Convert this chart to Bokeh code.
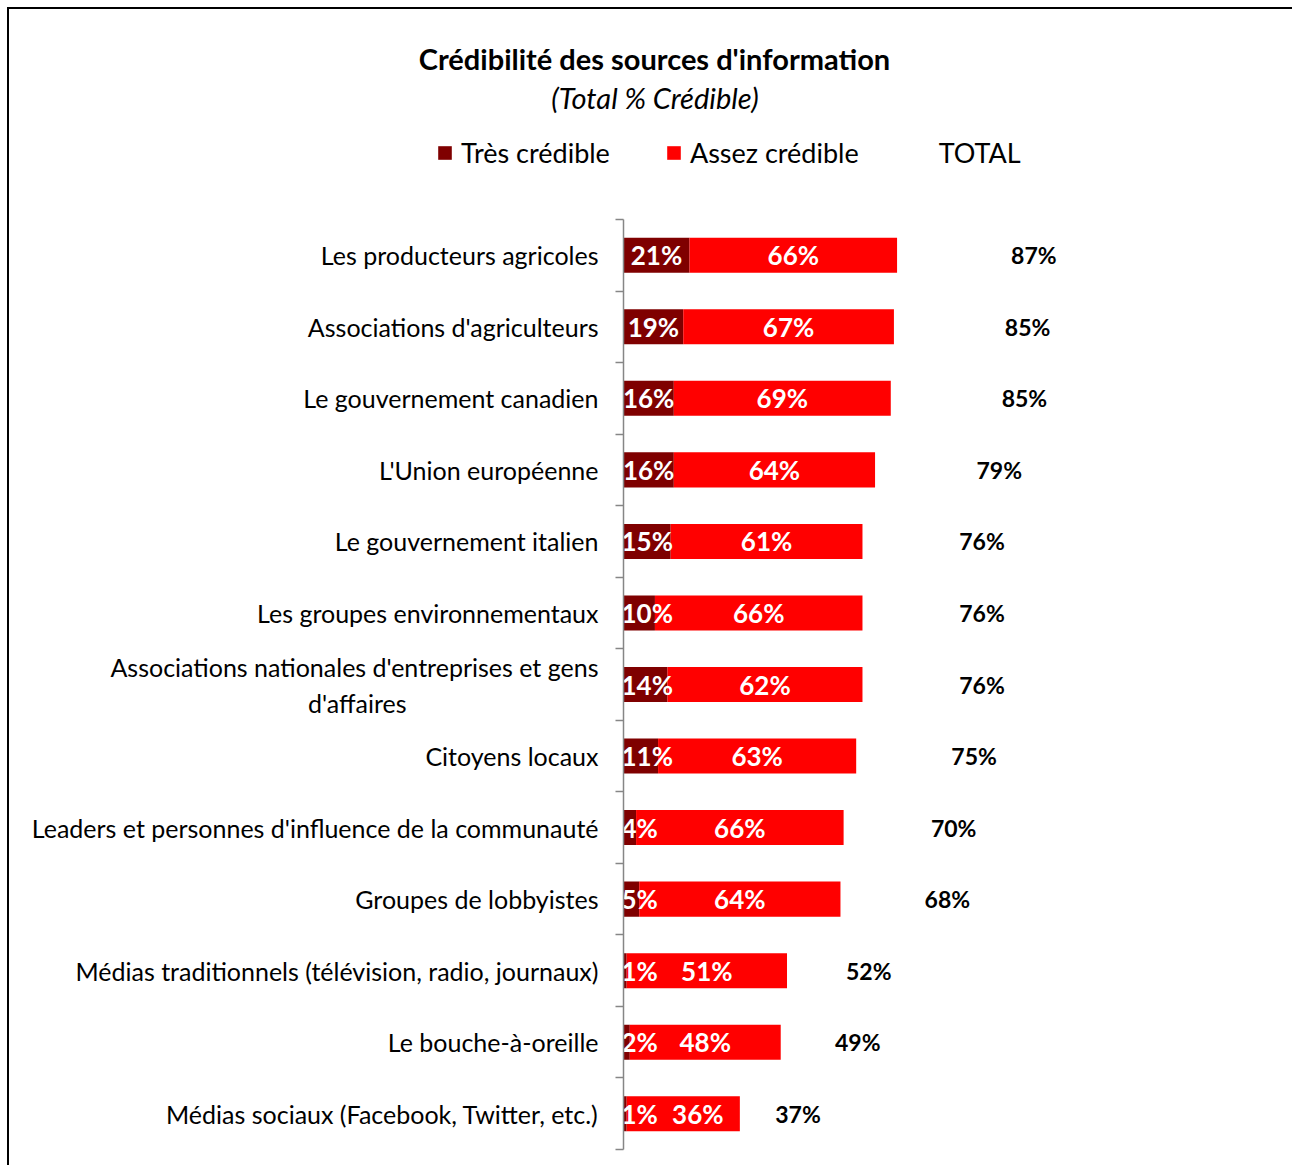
from bokeh.plotting import figure
from bokeh.models import ColumnDataSource, FixedTicker, Range1d
from bokeh.core.properties import value
from bokeh.embed import file_html
from bokeh.resources import INLINE

# ---------------- data ----------------
NBSP = "\u00a0"
categories = [
    "Les producteurs agricoles",
    "Associations d'agriculteurs",
    "Le gouvernement canadien",
    "L'Union européenne",
    "Le gouvernement italien",
    "Les groupes environnementaux",
    "Associations nationales d'entreprises et gens\nd'affaires" + NBSP * 30,
    "Citoyens locaux",
    "Leaders et personnes d'influence de la communauté",
    "Groupes de lobbyistes",
    "Médias traditionnels (télévision, radio, journaux)",
    "Le bouche-à-oreille",
    "Médias sociaux (Facebook, Twitter, etc.)",
]
tres_credible = [21, 19, 16, 16, 15, 10, 14, 11, 4, 5, 1, 2, 1]
assez_credible = [66, 67, 69, 64, 61, 66, 62, 63, 66, 64, 51, 48, 36]
total = [87, 85, 85, 79, 76, 76, 76, 75, 70, 68, 52, 49, 37]
series_names = ["Très crédible", "Assez crédible", "TOTAL"]
title_text = "Crédibilité des sources d'information"
subtitle_text = "(Total % Crédible)"

# ---------------- styles ----------------
FONT = "Lato"
DARK = "#7F0000"
RED = "#FF0000"
W = 1285
HT = 180            # header figure height
HM = 1158 - HT      # main figure height
ML, MR, MT, MB = 614, 105, 12, 6
X_MAX = 180
PX_PER_UNIT = (W - ML - MR) / X_MAX
BAR_LABEL_SIZE = 26

n = len(categories)
ypos = [n - 1 - i for i in range(n)]
tres_end = list(tres_credible)
assez_end = [a + b for a, b in zip(tres_credible, assez_credible)]
tot_end = [s + t for s, t in zip(assez_end, total)]

# ---------------- header figure (title + legend) ----------------
hdr = figure(width=W, height=HT, output_backend="svg", toolbar_location=None,
             x_range=Range1d(0, W), y_range=Range1d(HT, 0),
             x_axis_location=None, y_axis_location=None,
             min_border_left=0, min_border_right=0, min_border_top=0,
             min_border_bottom=0, title=None)
hdr.outline_line_color = None
hdr.xgrid.visible = False
hdr.ygrid.visible = False
hdr.text(x=[645], y=[49], text=[title_text], text_align="center",
         text_baseline="alphabetic", text_font=value(FONT), text_font_style="bold",
         text_font_size="29px", text_color="black")
hdr.text(x=[645.5], y=[87.5], text=[subtitle_text], text_align="center",
         text_baseline="alphabetic", text_font=value(FONT), text_font_style="italic",
         text_font_size="29px", text_color="black")
# legend proxies: zero-size bars that only carry the series styles
for name, col in zip(series_names, [DARK, RED, None]):
    if col is None:
        hdr.hbar(y=[0], left=[0], right=[0], height=0, fill_alpha=0, line_alpha=0,
                 legend_label=name)
    else:
        hdr.hbar(y=[0], left=[0], right=[0], height=0, fill_color=col, line_color=None,
                 legend_label=name)
lg = hdr.legend[0]
lg.orientation = "horizontal"
lg.location = (427, 20)
lg.spacing = 55
lg.glyph_width = 17
lg.glyph_height = 17
lg.label_standoff = 8
lg.padding = 0
lg.margin = 0
lg.border_line_color = None
lg.background_fill_alpha = 0
lg.label_text_font = FONT
lg.label_text_font_size = "27px"
lg.label_text_color = "black"
hdr.styles = {"margin-left": "7px", "margin-top": "7px",
              "border-left": "2px solid black", "border-top": "2px solid black"}

# ---------------- main figure ----------------
unit_px = (1150 - 220) / n
y_end = (n - 0.5) + 20 / unit_px
y_start = -0.5 - 10 / unit_px

p = figure(width=W, height=HM, output_backend="svg", toolbar_location=None,
           x_range=(0, X_MAX), y_range=(y_start, y_end),
           x_axis_location=None, min_border_left=ML, min_border_right=MR,
           min_border_top=MT, min_border_bottom=MB, title=None)
p.outline_line_color = None
p.xgrid.visible = False
p.ygrid.visible = False
p.styles = {"margin-left": "7px", "border-left": "2px solid black"}

src = ColumnDataSource(dict(y=ypos, t0=[0] * n, t1=tres_end, a1=assez_end, z1=tot_end))
h = 0.49
p.hbar(y="y", left="t0", right="t1", height=h, source=src, fill_color=DARK, line_color=None)
p.hbar(y="y", left="t1", right="a1", height=h, source=src, fill_color=RED, line_color=None)
p.hbar(y="y", left="a1", right="z1", height=h, source=src, fill_alpha=0, line_alpha=0)

# bar labels: centered in segment, clamped to plot's left edge, no overlap
def est_width(v):
    return BAR_LABEL_SIZE * (0.56 * len(str(v)) + 0.8)

lc = dict(x=[], y=[], text=[])
ll = dict(x=[], y=[], text=[])
dark_right_px = []
for v, yy in zip(tres_credible, ypos):
    w = est_width(v)
    if v * PX_PER_UNIT < w:
        ll["x"].append(0); ll["y"].append(yy); ll["text"].append(f"{v}%")
        dark_right_px.append(w)
    else:
        lc["x"].append(v / 2); lc["y"].append(yy); lc["text"].append(f"{v}%")
        dark_right_px.append(v * PX_PER_UNIT / 2 + w / 2)
for v, s, yy, dr in zip(assez_credible, tres_end, ypos, dark_right_px):
    w = est_width(v)
    cx = s + v / 2
    min_cx = (dr + 14 + w / 2) / PX_PER_UNIT
    lc["x"].append(max(cx, min_cx)); lc["y"].append(yy); lc["text"].append(f"{v}%")

common = dict(text_font=value(FONT), text_font_style="bold",
              text_font_size=f"{BAR_LABEL_SIZE}px", text_color="white",
              text_baseline="middle")
p.text(x="x", y="y", text="text", source=ColumnDataSource(lc), text_align="center", **common)
p.text(x="x", y="y", text="text", source=ColumnDataSource(ll), text_align="left",
       x_offset=-2, **common)

tl = dict(x=[s + t / 2 for s, t in zip(assez_end, total)], y=ypos,
          text=[f"{t}%" for t in total])
p.text(x="x", y="y", text="text", source=ColumnDataSource(tl), text_align="center",
       text_baseline="middle", text_font=value(FONT), text_font_style="bold",
       text_font_size="23px", text_color="black")

# y axis
ax = p.yaxis[0]
ax.ticker = FixedTicker(ticks=ypos, minor_ticks=[k - 0.5 for k in range(n + 1)])
ax.major_label_overrides = {yy: c for yy, c in zip(ypos, categories)}
ax.bounds = (-0.5, n - 0.5)
ax.axis_line_color = "#868686"
ax.axis_line_width = 1.5
ax.major_tick_out = 0
ax.major_tick_in = 0
ax.minor_tick_out = 8
ax.minor_tick_in = 0
ax.minor_tick_line_color = "#868686"
ax.minor_tick_line_width = 1.5
ax.major_label_standoff = 17
ax.major_label_text_font = FONT
ax.major_label_text_font_size = "25px"
ax.major_label_text_color = "black"

open("out.html", "w").write(file_html([hdr, p], INLINE))
